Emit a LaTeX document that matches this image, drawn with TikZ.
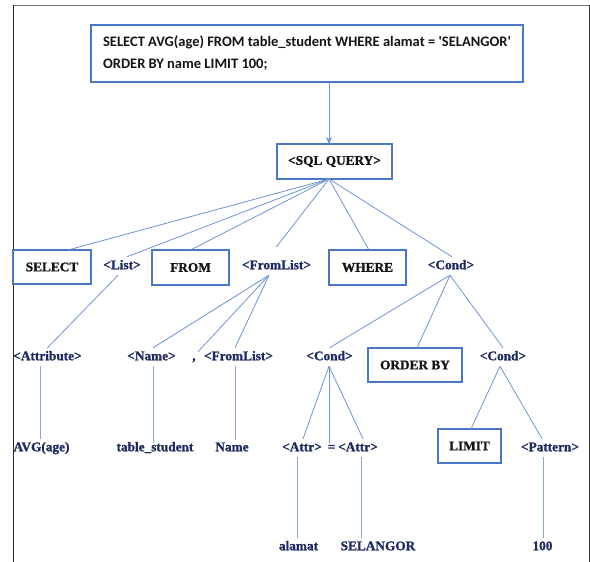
\documentclass[tikz,border=0pt]{standalone}
\usepackage{fontspec}
\setmainfont{Liberation Serif}
\newfontfamily\treefont[FakeBold=1.2]{Liberation Serif Bold}
\newfontfamily\calibri{Carlito}
\usetikzlibrary{arrows.meta}
\definecolor{edgeblue}{HTML}{6E93D4}
\definecolor{stemblue}{HTML}{8AA8DD}
\definecolor{boxblue}{HTML}{4A76C6}
\definecolor{labelnavy}{HTML}{1F2B5E}
\definecolor{keyink}{HTML}{141414}
\begin{document}
\begin{tikzpicture}[x=1pt,y=-1pt,
  lbl/.style={font=\treefont\fontsize{13.3}{15}\selectfont, text=labelnavy,
    inner sep=0pt, outer ysep=3.5pt, text height=9pt, text depth=2.5pt},
  kbox/.style={draw=boxblue, line width=1.2pt, fill=white,
    font=\treefont\fontsize{13.3}{15}\selectfont, text=keyink,
    inner sep=0pt, outer sep=0pt},
  qbox/.style={draw=boxblue, line width=1.2pt, align=left,
    font=\calibri\fontsize{14.5}{22}\selectfont\bfseries, text=keyink,
    inner sep=0pt, minimum width=432pt, minimum height=57pt},
  branch/.style={draw=edgeblue, line width=0.8pt},
  stem/.style={draw=stemblue, line width=0.9pt},
  frameline/.style={line width=1pt}]
\useasboundingbox (0,0) rectangle (590,562);

% outer frame, open at the bottom
\draw[frameline, draw=black!55] (13,5) -- (589,5);
\draw[frameline, draw=black!85] (13,5) -- (13,562);
\draw[frameline, draw=black!75] (589,5) -- (589,562);

% query statement and root
\node[qbox] (query) at (307,53.5)
  {SELECT AVG(age) FROM table\_student WHERE alamat = 'SELANGOR'\\ORDER BY name LIMIT 100;};
\node[kbox, minimum width=115pt, minimum height=35pt] (sql) at (334.5,161.5) {<SQL QUERY>};
\draw[branch, -{Stealth[length=7pt,width=6pt]}] ([xshift=22pt]query.south) -- ([xshift=-5.5pt]sql.north);

% second level
\node[kbox, minimum width=78pt, minimum height=34pt] (select) at (52,267) {SELECT};
\node[lbl] (list) at (122,266) {<List>};
\node[kbox, minimum width=77pt, minimum height=35pt] (from) at (190.5,267.5) {FROM};
\node[lbl] (fromlist) at (276.5,266) {<FromList>};
\node[kbox, minimum width=77pt, minimum height=35pt] (where) at (367.5,267.5) {WHERE};
\node[lbl] (cond) at (451,266) {<Cond>};

% third level
\node[lbl] (attribute) at (47.5,357) {<Attribute>};
\node[lbl] (name) at (151.5,357) {<Name>};
\node[lbl] (comma) at (194,357) {,};
\node[lbl] (fromlisttail) at (238.5,357) {<FromList>};
\node[lbl] (condleft) at (329.5,357) {<Cond>};
\node[kbox, minimum width=94pt, minimum height=34pt] (orderby) at (415,365) {ORDER BY};
\node[lbl] (condright) at (503,357) {<Cond>};

% fourth level
\node[lbl] (avg) at (41.5,448) {AVG(age)};
\node[lbl] (tablename) at (155,448) {table\_student};
\node[lbl] (namevalue) at (232,448) {Name};
\node[lbl] (attrleft) at (302,448) {<Attr>};
\node[lbl] (equals) at (331.5,448) {=};
\node[lbl] (attrright) at (358,448) {<Attr>};
\node[kbox, minimum width=63pt, minimum height=34pt] (limit) at (469.5,446) {LIMIT};
\node[lbl] (pattern) at (550,448) {<Pattern>};

% leaves
\node[lbl] (alamat) at (298.5,547) {alamat};
\node[lbl] (selangor) at (378,547) {SELANGOR};
\node[lbl] (hundred) at (542.5,547) {100};

% root branches
\coordinate (hub) at ([xshift=-5.5pt]sql.south);
\draw[branch] (hub) -- ([xshift=16pt]select.north);
\draw[branch] (hub) -- ([xshift=5pt]list.north);
\draw[branch] (hub) -- (from.north);
\draw[branch] (hub) -- ([yshift=10pt]fromlist.north);
\draw[branch] (hub) -- ([xshift=1.5pt]where.north);
\draw[branch] (hub) -- ([xshift=1pt]cond.north);

% second-level branches
\draw[branch] ([xshift=-4pt]list.south) -- (attribute.north);
\draw[branch] ([xshift=-7.5pt]fromlist.south) -- ([xshift=1.5pt]name.north);
\draw[branch] ([xshift=-7.5pt]fromlist.south) -- ([xshift=4pt,yshift=-4pt]comma.north);
\draw[branch] ([xshift=-7.5pt]fromlist.south) -- ([xshift=-3.5pt]fromlisttail.north);
\draw[branch] ([xshift=-1pt]cond.south) -- (condleft.north);
\draw[branch] ([xshift=-1pt]cond.south) -- ([xshift=2pt]orderby.north);
\draw[branch] ([xshift=-1pt]cond.south) -- (condright.north);

% third-level branches
\draw[stem] ([xshift=-7.5pt]attribute.south) -- ([xshift=-1.5pt]avg.north);
\draw[stem] ([xshift=1.5pt]name.south) -- ([xshift=-2pt,yshift=-4pt]tablename.north);
\draw[stem] ([xshift=-3.5pt]fromlisttail.south) -- ([xshift=3pt,yshift=-1.5pt]namevalue.north);
\draw[branch] ([xshift=-0.5pt]condleft.south) -- ([xshift=1pt]attrleft.north);
\draw[branch] ([xshift=-0.5pt]condleft.south) -- ([xshift=-2.5pt,yshift=-4pt]equals.north);
\draw[branch] ([xshift=-0.5pt]condleft.south) -- ([xshift=5pt]attrright.north);
\draw[branch] ([xshift=-3pt]condright.south) -- ([xshift=1.5pt]limit.north);
\draw[branch] ([xshift=-3pt]condright.south) -- ([xshift=-8pt]pattern.north);

% leaf stems
\draw[stem] ([xshift=-5pt]attrleft.south) -- ([xshift=-1.5pt]alamat.north);
\draw[stem] ([xshift=3.5pt]attrright.south) -- ([xshift=-16.5pt]selangor.north);
\draw[stem] ([xshift=-7pt]pattern.south) -- ([xshift=0.5pt]hundred.north);
\end{tikzpicture}
\end{document}
